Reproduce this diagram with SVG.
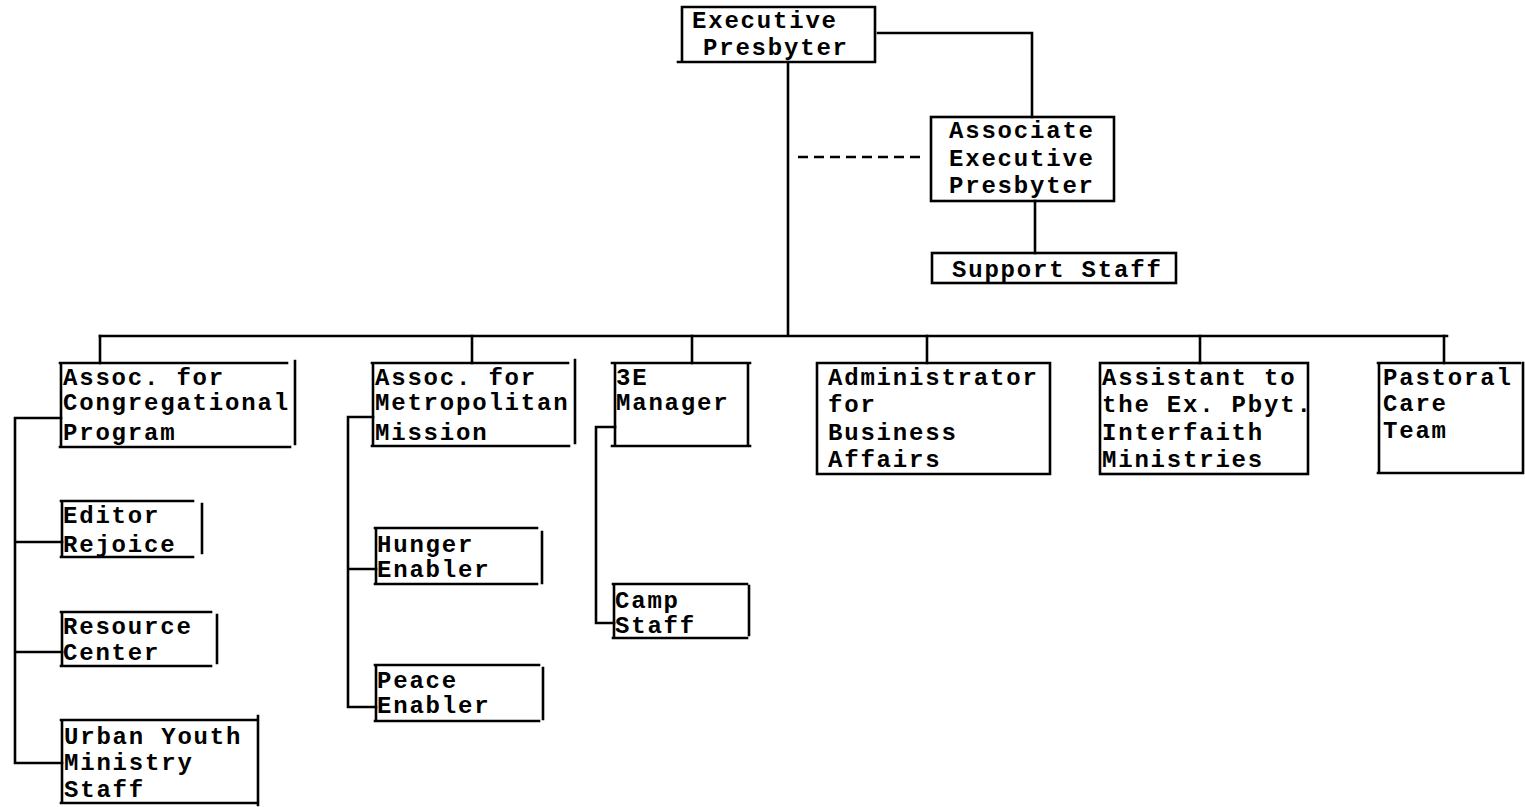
<svg xmlns="http://www.w3.org/2000/svg" width="1525" height="807" viewBox="0 0 1525 807">
<style>
.b{stroke:#000;stroke-width:2.6;fill:none;stroke-linecap:square}
.c{stroke:#000;stroke-width:2.6;fill:none;stroke-linecap:square}
.d{stroke:#000;stroke-width:2.6;fill:none;stroke-dasharray:10 6}
text{font-family:"Liberation Mono","DejaVu Sans Mono",monospace;font-size:24px;font-weight:bold;letter-spacing:1.8px;fill:#000}
</style>
<rect width="1525" height="807" fill="#fff"/>
<g id="connectors">
<path class="c" d="M878 33H1032V117"/>
<path class="c" d="M788 62V334"/>
<path class="d" d="M798 157H925"/>
<path class="c" d="M1035 201V253"/>
<path class="c" d="M100 336H1447"/>
<path class="c" d="M100 336V363M472 336V363M692 336V363M927 336V363M1200 336V363M1444 336V363"/>
<path class="c" d="M61 418H15V763H62M15 542H62M15 652H62"/>
<path class="c" d="M373 417H348V707H376M348 569H376"/>
<path class="c" d="M615 427H596V623H614"/>
</g>
<g id="exec">
<path class="b" d="M682 7H875V62H678M682 7V62"/>
<text x="692" y="28">Executive</text>
<text x="703" y="55">Presbyter</text>
</g>
<g id="assoc-exec">
<rect class="b" x="931" y="117" width="183" height="84"/>
<text x="949" y="138">Associate</text>
<text x="949" y="166">Executive</text>
<text x="949" y="193">Presbyter</text>
</g>
<g id="support">
<rect class="b" x="932" y="253" width="244" height="30"/>
<text x="952" y="277">Support Staff</text>
</g>
<g id="congregational">
<path class="b" d="M60 363H287M60 447H290M61 363V447M295 361V444"/>
<text x="63" y="385">Assoc. for</text>
<text x="63" y="410">Congregational</text>
<text x="63" y="440">Program</text>
</g>
<g id="metropolitan">
<path class="b" d="M372 363H568M372 446H569M373 363V446M575 360V443"/>
<text x="375" y="385">Assoc. for</text>
<text x="375" y="410">Metropolitan</text>
<text x="375" y="440">Mission</text>
</g>
<g id="manager">
<path class="b" d="M612 363H750M612 446H750M615 363V446M748 363V446"/>
<text x="616" y="385">3E</text>
<text x="616" y="410">Manager</text>
</g>
<g id="administrator">
<path class="b" d="M817 363H1048M817 474H1050M817 363V474M1050 363V474"/>
<text x="828" y="385">Administrator</text>
<text x="828" y="412">for</text>
<text x="828" y="440">Business</text>
<text x="828" y="467">Affairs</text>
</g>
<g id="assistant">
<rect class="b" x="1100" y="363" width="208" height="111"/>
<text x="1102" y="385">Assistant to</text>
<text x="1102" y="412">the Ex. Pbyt.</text>
<text x="1102" y="440">Interfaith</text>
<text x="1102" y="467">Ministries</text>
</g>
<g id="pastoral">
<path class="b" d="M1378 363H1520M1378 473H1523M1379 363V473M1523 363V473"/>
<text x="1383" y="385">Pastoral</text>
<text x="1383" y="411">Care</text>
<text x="1383" y="438">Team</text>
</g>
<g id="editor">
<path class="b" d="M61 501H193M61 557H193M62 501V557M202 504V553"/>
<text x="63" y="523">Editor</text>
<text x="63" y="552">Rejoice</text>
</g>
<g id="resource">
<path class="b" d="M61 612H211M61 666H211M62 612V666M217 615V663"/>
<text x="63" y="634">Resource</text>
<text x="63" y="660">Center</text>
</g>
<g id="urban">
<path class="b" d="M61 720H258M61 803H258M62 720V803M258 716V805"/>
<text x="64" y="744">Urban Youth</text>
<text x="64" y="770">Ministry</text>
<text x="64" y="797">Staff</text>
</g>
<g id="hunger">
<path class="b" d="M375 528H537M375 584H537M376 528V584M542 532V583"/>
<text x="377" y="552">Hunger</text>
<text x="377" y="577">Enabler</text>
</g>
<g id="peace">
<path class="b" d="M375 665H539M375 721H539M376 665V721M543 668V719"/>
<text x="377" y="688">Peace</text>
<text x="377" y="713">Enabler</text>
</g>
<g id="camp">
<path class="b" d="M613 584H747M613 638H747M614 584V638M749 586V635"/>
<text x="615" y="608">Camp</text>
<text x="615" y="633">Staff</text>
</g>
</svg>
